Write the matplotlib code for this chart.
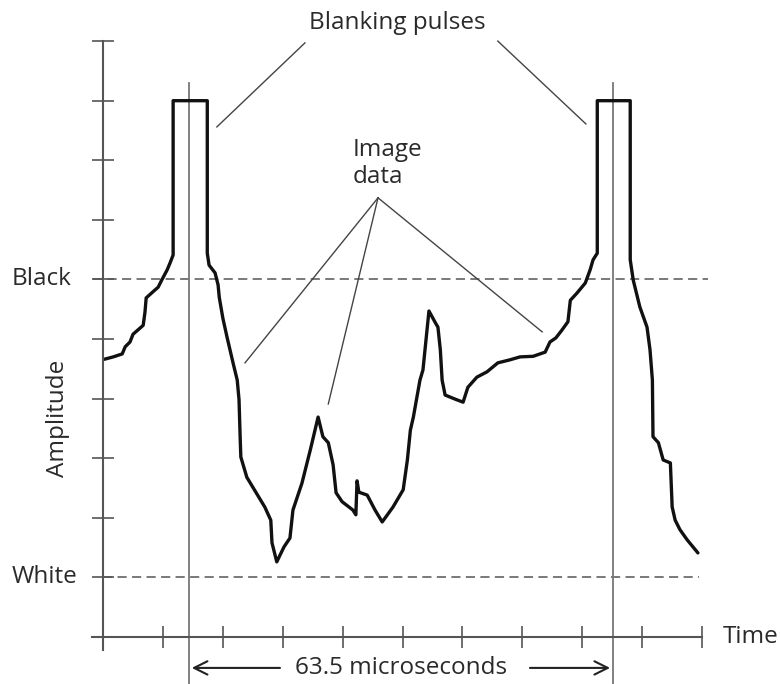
import numpy as np
import matplotlib
matplotlib.use('Agg')
import matplotlib.pyplot as plt

plt.rcParams['font.family'] = ['Open Sans', 'DejaVu Sans']

# trace, in grid units (one tick = 1)
t = [0.02, 0.17, 0.32, 0.37, 0.45, 0.50, 0.58, 0.67, 0.70, 0.72, 0.83, 0.92,
     0.98, 1.07, 1.12, 1.17, 1.17, 1.74, 1.74, 1.77, 1.87, 1.92, 1.94, 2.00,
     2.07, 2.17, 2.24, 2.27, 2.29, 2.30, 2.40, 2.55, 2.70, 2.80, 2.82, 2.90,
     3.02, 3.12, 3.17, 3.32, 3.46, 3.59, 3.67, 3.76, 3.84, 3.89, 3.99, 4.17,
     4.22, 4.24, 4.27, 4.41, 4.54, 4.66, 4.84, 5.01, 5.08, 5.13, 5.18, 5.29,
     5.34, 5.44, 5.56, 5.59, 5.63, 5.66, 5.71, 5.88, 6.01, 6.09, 6.24, 6.41,
     6.59, 6.79, 6.96, 7.18, 7.38, 7.46, 7.56, 7.66, 7.76, 7.80, 7.91, 8.05,
     8.13, 8.18, 8.25, 8.25, 8.80, 8.80, 8.85, 8.96, 9.08, 9.13, 9.17, 9.18,
     9.27, 9.35, 9.47, 9.50, 9.55, 9.63, 9.75, 9.93]
amp = [4.66, 4.70, 4.75, 4.87, 4.95, 5.08, 5.15, 5.23, 5.45, 5.69, 5.79, 5.87,
       5.99, 6.16, 6.28, 6.41, 9.00, 9.00, 6.44, 6.24, 6.11, 5.91, 5.70, 5.35,
       5.03, 4.60, 4.31, 3.98, 3.31, 3.02, 2.68, 2.43, 2.18, 1.96, 1.58, 1.26,
       1.51, 1.66, 2.13, 2.58, 3.14, 3.69, 3.36, 3.26, 2.89, 2.42, 2.27, 2.13,
       2.05, 2.62, 2.43, 2.38, 2.13, 1.93, 2.18, 2.47, 2.97, 3.47, 3.69, 4.31,
       4.48, 5.47, 5.25, 5.20, 4.82, 4.31, 4.06, 3.99, 3.94, 4.19, 4.36, 4.45,
       4.60, 4.65, 4.70, 4.71, 4.78, 4.95, 5.02, 5.15, 5.29, 5.65, 5.77, 5.94,
       6.16, 6.33, 6.44, 9.00, 9.00, 6.33, 5.99, 5.54, 5.20, 4.82, 4.31, 3.36,
       3.26, 2.97, 2.92, 2.18, 1.96, 1.80, 1.63, 1.41]

black_level = 6
white_level = 1
line_start, line_end = 1.435, 8.51
period_label = '63.5 microseconds'

fig = plt.figure(figsize=(7.8, 6.84), dpi=100)
ax = fig.add_axes([0, 0, 1, 1])
ax.set_xlim(-1.72, 11.30)
ax.set_ylim(-0.79, 10.69)

axis_col = '#555555'
for s in ['top', 'right']:
    ax.spines[s].set_visible(False)
ax.spines['left'].set_position(('data', 0))
ax.spines['bottom'].set_position(('data', 0))
ax.spines['left'].set_bounds(-0.22, 10)
ax.spines['bottom'].set_bounds(-0.18, 10)
for s in ['left', 'bottom']:
    ax.spines[s].set_color(axis_col)
    ax.spines[s].set_linewidth(1.5)
ax.set_xticks(np.arange(0, 11))
ax.set_yticks(np.arange(0, 11))
ax.tick_params(direction='inout', length=16, width=1.2, color=axis_col,
               labelbottom=False, labelleft=False)

# reference levels
dash = (0, (6, 3.5))
ax.plot([-0.17, 10.1], [black_level, black_level], color='#555555', lw=1.1, ls=dash)
ax.plot([0, 9.95], [white_level, white_level], color='#555555', lw=1.1, ls=dash)

# line period markers
for x in (line_start, line_end):
    ax.plot([x, x], [-0.8, 9.3], color='#777777', lw=1.3)

ax.plot(t, amp, color='#111111', lw=2.4, solid_joinstyle='round',
        solid_capstyle='round')

# leader lines
lc = '#444444'
ax.plot([3.37, 1.90], [9.97, 8.56], color=lc, lw=1.0)
ax.plot([6.59, 8.06], [10.0, 8.61], color=lc, lw=1.0)
for ex, ey in [(2.37, 4.60), (3.76, 3.91), (7.33, 5.12)]:
    ax.plot([4.59, ex], [7.37, ey], color=lc, lw=1.0)

tc = '#2a2a2a'
fs = 17.5
ax.text(4.92, 10.30, 'Blanking pulses', ha='center', va='center', fontsize=fs, color=tc)
ax.text(4.17, 7.95, 'Image\ndata', ha='left', va='center', fontsize=fs, color=tc,
        linespacing=1.15)
ax.text(-1.52, black_level, 'Black', ha='left', va='center', fontsize=fs, color=tc)
ax.text(-1.52, white_level, 'White', ha='left', va='center', fontsize=fs, color=tc)
ax.text(-0.75, 3.67, 'Amplitude', ha='center', va='center', rotation=90,
        fontsize=fs, color=tc)
ax.text(10.35, 0, 'Time', ha='left', va='center', fontsize=fs, color=tc)
ax.text((line_start + line_end) / 2, -0.52, period_label, ha='center', va='center',
        fontsize=fs, color=tc)

arrow = dict(arrowstyle='->', color='#222222', lw=1.5, mutation_scale=24)
ax.annotate('', xy=(line_start, -0.52), xytext=(3.0, -0.52), arrowprops=arrow)
ax.annotate('', xy=(line_end, -0.52), xytext=(7.08, -0.52), arrowprops=arrow)

fig.savefig('out.png', dpi=100)
